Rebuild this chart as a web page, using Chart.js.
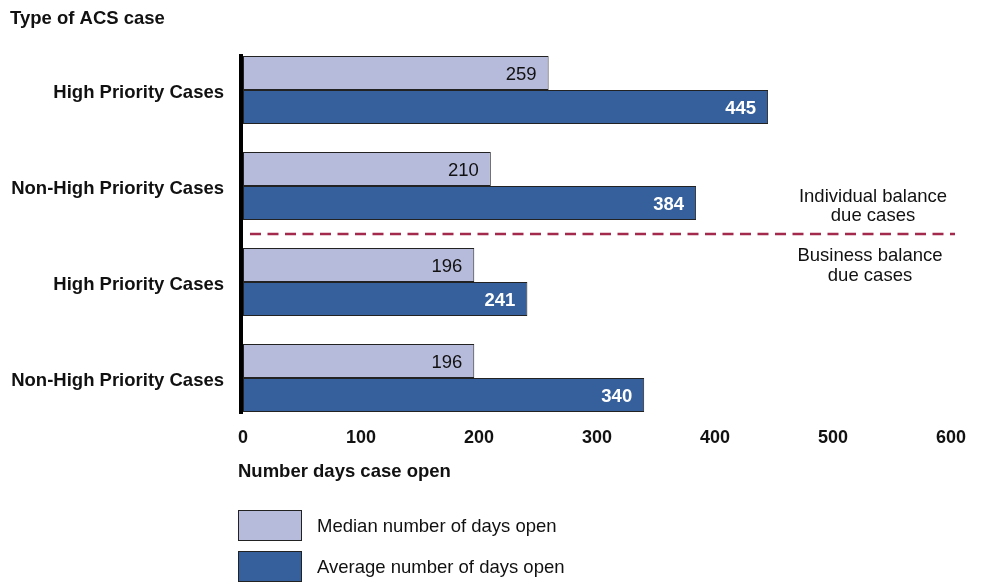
<!DOCTYPE html>
<html>
<head>
<meta charset="utf-8">
<script src="https://cdn.jsdelivr.net/npm/chart.js@4.4.1/dist/chart.umd.min.js"></script>
<style>
  html, body { margin: 0; padding: 0; background: #fff; }
  #wrap { width: 983px; height: 582px; position: relative; }
</style>
</head>
<body>
<div id="wrap"><canvas id="days"></canvas></div>
<script>
'use strict';

// case types, top to bottom (first two individual, last two business)
const categories = ['High Priority Cases', 'Non-High Priority Cases', 'High Priority Cases', 'Non-High Priority Cases'];
const medianDays = [259, 210, 196, 196];
const averageDays = [445, 384, 241, 340];
const seriesNames = ['Median number of days open', 'Average number of days open'];
const groupNotes = [['Individual balance', 'due cases'], ['Business balance', 'due cases']];
const xMin = 0, xMax = 600, xStep = 100;

const FONT = '"Liberation Sans", Arial, Helvetica, sans-serif';
const FS = 18.5;
const LIGHT = '#b7bbdb';
const DARK = '#35609c';

// value labels at the inner end of each bar
const barLabels = {
  id: 'barLabels',
  afterDatasetsDraw(chart) {
    const ctx = chart.ctx;
    ctx.save();
    ctx.textAlign = 'right';
    ctx.textBaseline = 'middle';
    chart.data.datasets.forEach((ds, di) => {
      const meta = chart.getDatasetMeta(di);
      meta.data.forEach((bar, i) => {
        ctx.font = di === 0 ? `${FS}px ${FONT}` : `bold ${FS}px ${FONT}`;
        ctx.fillStyle = di === 0 ? '#111' : '#fff';
        ctx.fillText(String(ds.data[i]), bar.x - 12, bar.y + 2);
      });
    });
    ctx.restore();
  }
};

// heavy axis line, group divider, notes, titles and legend
const decor = {
  id: 'decor',
  afterDraw(chart) {
    const ctx = chart.ctx;
    const area = chart.chartArea;
    const y = chart.scales.y;
    const first = chart.getDatasetMeta(0).data[0];
    const last = chart.getDatasetMeta(1).data[categories.length - 1];
    ctx.save();

    // axis line spanning the bars
    ctx.fillStyle = '#000';
    ctx.fillRect(area.left - 4, first.y - first.height / 2 - 2, 4, last.y + last.height / 2 - (first.y - first.height / 2) + 4);

    // divider between individual and business cases
    const yDiv = (y.getPixelForValue(1) + y.getPixelForValue(2)) / 2;
    ctx.strokeStyle = '#a3294d';
    ctx.lineWidth = 2.5;
    ctx.setLineDash([11, 6.5]);
    ctx.beginPath();
    ctx.moveTo(area.left + 7, yDiv);
    ctx.lineTo(area.right + 4, yDiv);
    ctx.stroke();
    ctx.setLineDash([]);

    ctx.fillStyle = '#111';
    ctx.font = `${FS}px ${FONT}`;
    ctx.textAlign = 'center';
    ctx.textBaseline = 'middle';
    ctx.fillText(groupNotes[0][0], 873, 197);
    ctx.fillText(groupNotes[0][1], 873, 216);
    ctx.fillText(groupNotes[1][0], 870, 256);
    ctx.fillText(groupNotes[1][1], 870, 276);

    // titles
    ctx.textAlign = 'left';
    ctx.font = `bold ${FS}px ${FONT}`;
    ctx.fillText('Type of ACS case', 10, 19);
    ctx.fillText('Number days case open', 238, 472);

    // legend
    const swatches = [LIGHT, DARK];
    ctx.font = `${FS}px ${FONT}`;
    swatches.forEach((c, i) => {
      const top = 510 + i * 41;
      ctx.fillStyle = c;
      ctx.fillRect(238, top, 64, 31);
      ctx.strokeStyle = '#222';
      ctx.lineWidth = 1;
      ctx.strokeRect(238.5, top + 0.5, 63, 30);
      ctx.fillStyle = '#111';
      ctx.fillText(seriesNames[i], 317, top + 17);
    });
    ctx.restore();
  }
};

new Chart(document.getElementById('days'), {
  type: 'bar',
  data: {
    labels: categories,
    datasets: [
      { label: seriesNames[0], data: medianDays, backgroundColor: LIGHT, borderColor: '#222', borderWidth: 1, borderSkipped: false },
      { label: seriesNames[1], data: averageDays, backgroundColor: DARK, borderColor: '#222', borderWidth: 1, borderSkipped: false }
    ]
  },
  options: {
    indexAxis: 'y',
    responsive: true,
    maintainAspectRatio: false,
    animation: false,
    datasets: { bar: { categoryPercentage: 0.708, barPercentage: 1 } },
    layout: { padding: { top: 42, right: 32, left: 0, bottom: 0 } },
    plugins: { legend: { display: false }, tooltip: { enabled: false } },
    scales: {
      x: {
        min: xMin, max: xMax,
        grid: { display: false, drawTicks: false },
        border: { display: false },
        ticks: { stepSize: xStep, padding: 1, color: '#111', font: { family: FONT, size: 18, weight: 'bold' } },
        afterFit(scale) { scale.height = 156; }
      },
      y: {
        grid: { display: false, drawTicks: false },
        border: { display: false },
        ticks: { padding: 19, labelOffset: 3, color: '#111', font: { family: FONT, size: FS, weight: 'bold' } },
        afterFit(scale) { scale.width = 243; }
      }
    }
  },
  plugins: [barLabels, decor]
});
</script>
</body>
</html>
